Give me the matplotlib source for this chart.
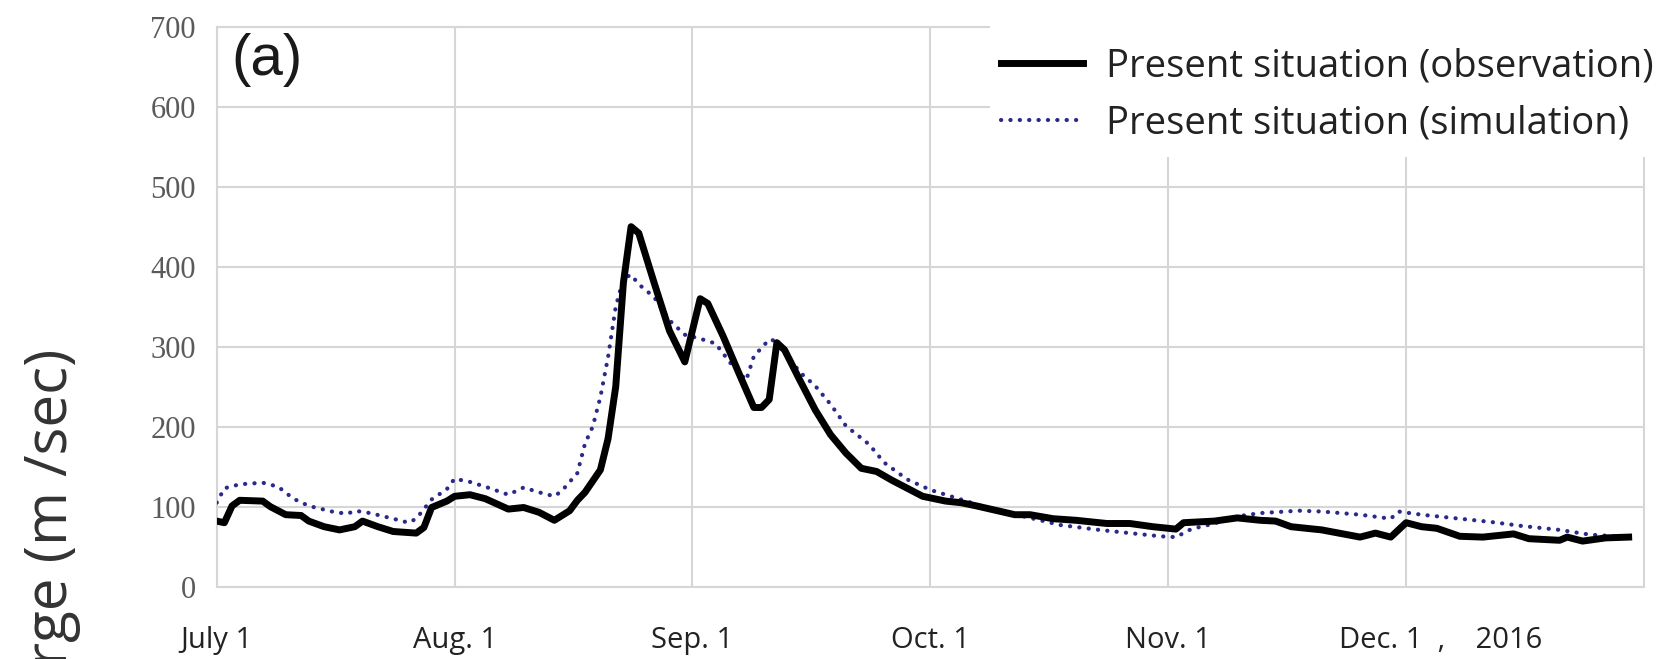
import matplotlib
matplotlib.use("Agg")
import matplotlib.pyplot as plt
from matplotlib.patches import Rectangle
from matplotlib.transforms import ScaledTranslation

# day index from July 1 (equal spacing per month on the axis)
obs_day = [0, 1, 2, 3, 6, 7, 9, 11, 12, 14, 16, 18, 19, 21, 23, 26, 27, 28, 30, 31,
           33, 35, 38, 40, 42, 44, 46, 47, 48, 50, 51, 52, 53, 54, 55, 57, 59, 61, 63,
           64, 66, 68, 70, 71, 72, 73, 74, 76, 78, 80, 82, 84, 86, 88, 89, 92, 95, 97,
           99, 104, 106, 109, 112, 116, 119, 122, 125, 126, 130, 133, 136, 138, 140,
           144, 149, 151, 153, 155, 157, 159, 162, 165, 169, 171, 175, 176, 178, 181, 184]
obs_q = [82, 80, 101, 108, 107, 100, 90, 89, 82, 75, 71, 75, 82, 75, 69, 67, 74, 99, 107, 113,
         115, 110, 97, 99, 93, 83, 95, 108, 118, 146, 185, 250, 380, 450, 442, 380, 320, 281, 360,
         354, 313, 268, 224, 224, 234, 305, 296, 258, 221, 190, 167, 148, 144, 133, 128, 113, 107, 105,
         101, 90, 90, 85, 83, 79, 79, 75, 72, 80, 82, 86, 83, 82, 75,
         71, 62, 67, 62, 80, 75, 73, 63, 62, 66, 60, 58, 62, 57, 61, 62]

sim_day = [0, 1, 3, 6, 8, 10, 12, 15, 17, 18, 20, 23, 25, 26, 28, 30, 31, 33, 35, 38,
           40, 42, 44, 45, 47, 48, 49, 50, 51, 52, 53, 54, 55, 57, 59, 61, 63, 65, 67,
           69, 70, 72, 73, 76, 78, 80, 82, 85, 87, 90, 93, 95, 97, 101, 106, 110, 115,
           119, 123, 125, 127, 130, 133, 136, 141, 144, 149, 153, 154, 157, 162, 166,
           170, 175, 179, 184]
sim_q = [105, 123, 128, 130, 125, 110, 101, 94, 91, 95, 92, 85, 80, 85, 109, 122, 135, 131, 125, 115,
         124, 118, 113, 120, 142, 179, 200, 237, 287, 350, 385, 390, 378, 362, 333, 315, 310, 304, 279,
         258, 288, 309, 307, 268, 251, 228, 201, 178, 155, 134, 121, 115, 109, 97, 86, 77, 71,
         67, 63, 62, 72, 79, 88, 92, 95, 94, 90, 85, 94, 90, 85, 81,
         76, 71, 65, 62]

tick_days = [0, 31, 62, 93, 124, 155]
tick_labels = ["July 1", "Aug. 1", "Sep. 1", "Oct. 1", "Nov. 1", "Dec. 1  ,    2016"]
y_ticks = [0, 100, 200, 300, 400, 500, 600, 700]

W, H = 1661, 659
fig = plt.figure(figsize=(W / 100, H / 100), dpi=100)
ax = fig.add_axes([216.7 / W, 1 - 586.7 / H, (1644 - 216.7) / W, (586.7 - 26.7) / H])

grid_c = "#d6d6d6"
ax.plot(sim_day, sim_q, color="#2a2a8a", lw=3.0, linestyle=(0, (0.05, 2.2)),
        dash_capstyle="round", label="Present situation (simulation)", zorder=3)
ax.plot(obs_day, obs_q, color="black", lw=5, solid_joinstyle="round",
        label="Present situation (observation)", zorder=4)

ax.set_xlim(0, 186)
ax.set_ylim(0, 700)
ax.set_xticks(tick_days)
ax.set_xticklabels(tick_labels, family="Open Sans", fontsize=21, color="#222222")
ax.set_yticks(y_ticks)
ax.set_yticklabels([str(v) for v in y_ticks], family="Liberation Serif", fontsize=22, color="#5a5a5a")
ax.tick_params(axis="x", length=0, pad=28)
ax.tick_params(axis="y", length=0, pad=15)
ax.grid(True, color=grid_c, lw=1.5)
ax.set_axisbelow(True)
for s in ax.spines.values():
    s.set_color(grid_c)
    s.set_linewidth(1.5)

# last label starts left of its tick instead of being centred
last = ax.get_xticklabels()[-1]
last.set_ha("left")
last.set_transform(last.get_transform() + ScaledTranslation(-0.67, 0, fig.dpi_scale_trans))

fig.text(231 / W, 1 - 33 / H, "(a)", family="Liberation Sans", fontsize=42,
         ha="left", va="top", color="#1a1a1a")

fig.text(52 / W, 1 - 349 / H, "Discharge (m /sec)", family="Open Sans", fontsize=42,
         rotation=90, ha="center", va="top", color="#333333")

# white block behind the legend
fig.patches.append(Rectangle((990 / W, 1 - 157 / H), (W - 990) / W, 157 / H,
                             transform=fig.transFigure, facecolor="white",
                             edgecolor="none", zorder=2))
h, l = ax.get_legend_handles_labels()
fig.legend(h[::-1], l[::-1], loc="center left", bbox_to_anchor=(1001 / W, 1 - 95 / H),
           frameon=False, prop={"family": "Open Sans", "size": 27.5}, handlelength=2.15,
           handletextpad=0.6, labelspacing=0.5, borderpad=0, borderaxespad=0,
           labelcolor="#222222")

fig.savefig("out.png", dpi=100)
